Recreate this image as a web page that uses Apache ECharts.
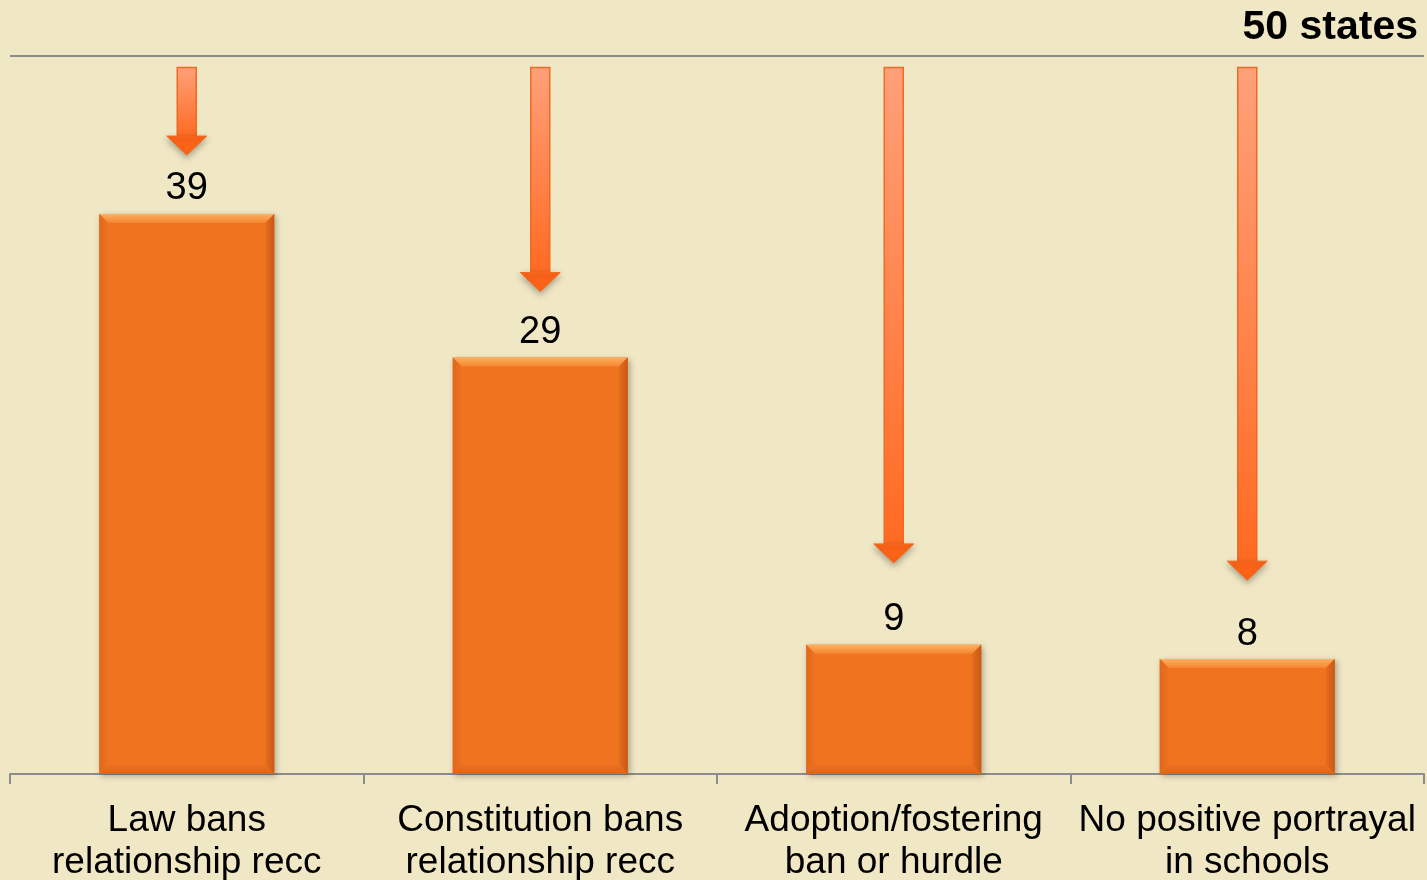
<!DOCTYPE html>
<html>
<head>
<meta charset="utf-8">
<script src="https://cdn.jsdelivr.net/npm/echarts@6/dist/echarts.min.js"></script>
<style>
  html, body { margin: 0; padding: 0; background: #F0E7C5; }
  #chart { width: 1427px; height: 880px; }
</style>
</head>
<body>
<div id="chart"></div>
<script>
// categories (two-line labels)
const categories = [
  'Law bans\nrelationship recc',
  'Constitution bans\nrelationship recc',
  'Adoption/fostering\nban or hurdle',
  'No positive portrayal\nin schools'
]
// number of states per category
const stateCounts = [39, 29, 9, 8]
// total states, the top reference line
const totalStates = 50
// arrow start / end (in states)
const arrowStart = [49.2, 49.2, 49.2, 49.2]
const arrowEnd = [43.1, 33.6, 14.7, 13.5]

const chart = echarts.init(document.getElementById('chart'))

const orange = '#F07320'

// bevel overlay on each bar
const bevelItem = (params, api) => {
  const base = api.coord([api.value(0), 0])
  const top = api.coord([api.value(0), api.value(1)])
  const w = 175
  const x0 = base[0] - w / 2, x1 = base[0] + w / 2
  const y0 = top[1], y1 = base[1]
  const b = 9
  return {
    type: 'group',
    children: [
      { type: 'polygon', shape: { points: [[x0, y0], [x1, y0], [x1 - b, y0 + b], [x0 + b, y0 + b]] },
        style: { fill: new echarts.graphic.LinearGradient(0, 0, 0, 1, [{ offset: 0, color: '#FDB060' }, { offset: 1, color: '#F58530' }]) } },
      { type: 'polygon', shape: { points: [[x0, y0], [x0 + b, y0 + b], [x0 + b, y1 - b], [x0, y1]] },
        style: { fill: new echarts.graphic.LinearGradient(0, 0, 1, 0, [{ offset: 0, color: '#E0681C' }, { offset: 1, color: '#EE7220' }]) } },
      { type: 'polygon', shape: { points: [[x1, y0], [x1 - b, y0 + b], [x1 - b, y1 - b], [x1, y1]] },
        style: { fill: new echarts.graphic.LinearGradient(0, 0, 1, 0, [{ offset: 0, color: '#E86C1E' }, { offset: 1, color: '#C65A16' }]) } },
      { type: 'polygon', shape: { points: [[x0, y1], [x0 + b, y1 - b], [x1 - b, y1 - b], [x1, y1]] },
        style: { fill: new echarts.graphic.LinearGradient(0, 0, 0, 1, [{ offset: 0, color: '#EC701F' }, { offset: 1, color: '#D8661C' }]) } }
    ]
  }
}

// down arrows from the 50-state line to each bar label
const arrowItem = (params, api) => {
  const p0 = api.coord([api.value(0), api.value(1)])
  const p1 = api.coord([api.value(0), api.value(2)])
  const cx = p0[0]
  const shaftW = 19, headW = 40, headH = 19
  const shaftBottom = p1[1] - headH
  return {
    type: 'group',
    children: [
      { type: 'rect', shape: { x: cx - shaftW / 2, y: p0[1], width: shaftW, height: shaftBottom - p0[1] },
        style: { fill: new echarts.graphic.LinearGradient(0, 0, 0, 1, [{ offset: 0, color: '#FFA07A' }, { offset: 1, color: '#FF6A22' }]),
          stroke: '#F06A22', lineWidth: 1.5 } },
      { type: 'polygon', shape: { points: [[cx - headW / 2, shaftBottom], [cx + headW / 2, shaftBottom], [cx, p1[1]]] },
        style: { fill: '#FF6418', stroke: '#F06A22', lineWidth: 1,
          shadowBlur: 6, shadowColor: 'rgba(0,0,0,0.3)', shadowOffsetY: 3 } }
    ]
  }
}

const option = {
  backgroundColor: '#F0E7C5',
  animation: false,
  title: {
    text: totalStates + ' states',
    right: 4,
    top: 2,
    textStyle: { fontFamily: 'Liberation Sans, Arial', fontSize: 41, fontWeight: 'bold', color: '#000' }
  },
  grid: { left: 10, right: 3, top: 56, bottom: 106, outerBoundsMode: 'none' },
  xAxis: {
    type: 'category',
    data: categories,
    axisLine: { lineStyle: { color: '#8C8C8C', width: 2 } },
    axisTick: { show: true, length: 10, lineStyle: { color: '#8C8C8C', width: 2 } },
    axisLabel: {
      interval: 0,
      margin: 26,
      color: '#000',
      fontFamily: 'Liberation Sans, Arial',
      fontSize: 37,
      lineHeight: 42
    }
  },
  yAxis: {
    type: 'value',
    min: 0,
    max: totalStates,
    interval: totalStates,
    axisLabel: { show: false },
    axisLine: { show: false },
    axisTick: { show: false },
    splitLine: { show: true, lineStyle: { color: '#8C8C8C', width: 2 } }
  },
  series: [
    {
      type: 'bar',
      data: stateCounts,
      barWidth: 175,
      itemStyle: {
        color: orange,
        shadowBlur: 6,
        shadowColor: 'rgba(0,0,0,0.3)',
        shadowOffsetX: 2,
        shadowOffsetY: 2
      },
      label: {
        show: true,
        position: 'top',
        distance: 6,
        color: '#000',
        fontFamily: 'Liberation Sans, Arial',
        fontSize: 38
      },
      z: 2
    },
    {
      type: 'custom',
      renderItem: bevelItem,
      data: stateCounts.map((v, i) => [i, v]),
      z: 3,
      silent: true
    },
    {
      type: 'custom',
      renderItem: arrowItem,
      data: arrowStart.map((v, i) => [i, v, arrowEnd[i]]),
      z: 4,
      silent: true
    }
  ]
}

chart.setOption(option)
</script>
</body>
</html>
